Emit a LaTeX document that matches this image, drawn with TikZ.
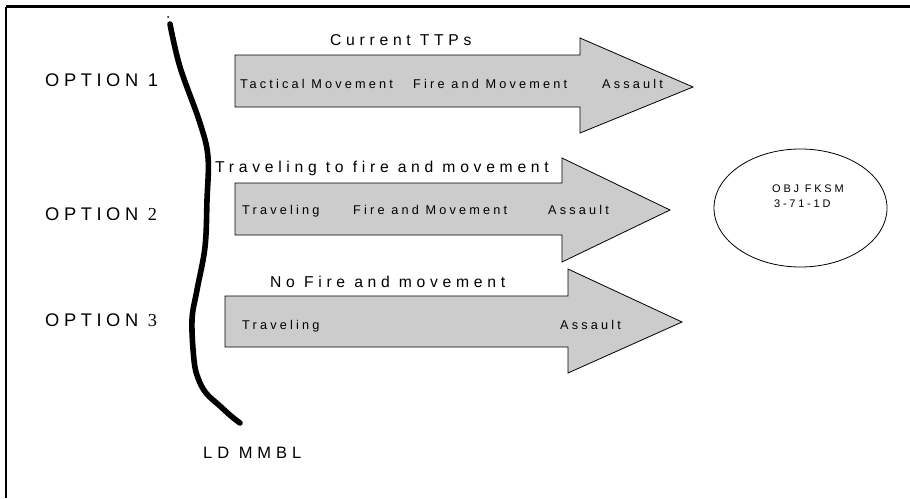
\documentclass[tikz,border=0pt]{standalone}
\usepackage{fontspec}
\setmainfont{Liberation Sans}
\newfontfamily\spaced[LetterSpace=25]{Liberation Sans}
\newfontfamily\spacedwide[LetterSpace=30]{Liberation Sans}
\newfontfamily\spacedserif[LetterSpace=25]{Liberation Serif}
\begin{document}
\begin{tikzpicture}[x=1pt,y=-1pt,
  arrowshape/.style={draw=black, line width=0.8pt, fill=black!20, line join=miter},
  lbl/.style={inner sep=0pt, anchor=base west},
  titlelbl/.style={lbl, font=\spacedwide\fontsize{15.7}{18}\selectfont},
  bodylbl/.style={lbl, font=\spaced\fontsize{12.7}{15}\selectfont},
  optlbl/.style={lbl, font=\spaced\fontsize{18.3}{21}\selectfont},
  ldlbl/.style={lbl, font=\spacedwide\fontsize{16.5}{19}\selectfont},
  objlbl/.style={lbl, font=\spaced\fontsize{11}{13}\selectfont},
  frameline/.style={line width=2.6pt, black}
]
\useasboundingbox (0,0) rectangle (910,498);
% frame (top and left only)
\draw[frameline] (6,6.5) -- (910,6.5);
\draw[frameline] (6,6.5) -- (6,498);

% line of departure
\fill (168,17) circle (1pt);
\draw[line width=5.6pt, line cap=round, line join=round]
  plot[smooth, tension=0.6] coordinates {(170,24) (180,67) (200,123) (208,157) (207,200) (205,247) (197,290) (192,320) (194,360) (198,378) (206,393) (220,406) (231,416) (240,423)};

% arrows
\draw[arrowshape] (235,55) -- (580,55) -- (580,38) -- (693,87) -- (580,133) -- (580,107) -- (235,107) -- cycle;
\draw[arrowshape] (235,183) -- (562,183) -- (562,158) -- (670,210) -- (562,262) -- (562,235) -- (235,235) -- cycle;
\draw[arrowshape] (225,296) -- (568,296) -- (568,269) -- (682,322) -- (568,373) -- (568,347) -- (225,347) -- cycle;

% objective
\draw[line width=0.8pt] (800.5,208) ellipse [x radius=86.5, y radius=59];
\node[objlbl] (obj1) at (772,192) {OBJ FKSM};
\node[objlbl] (obj2) at (774,207) {3-71-1D};

% titles
\node[titlelbl] (t1) at (330,45) {Current TTPs};
\node[titlelbl] (t2) at (215,172) {Traveling to fire and movement};
\node[titlelbl] (t3) at (270,287) {No Fire and movement};

% arrow texts
\node[bodylbl] (a1) at (240,88) {Tactical Movement};
\node[bodylbl] (a2) at (413,88) {Fire and Movement};
\node[bodylbl] (a3) at (602,88) {Assault};
\node[bodylbl] (b1) at (242,214) {Traveling};
\node[bodylbl] (b2) at (353,214) {Fire and Movement};
\node[bodylbl] (b3) at (548,214) {Assault};
\node[bodylbl] (c1) at (242,329) {Traveling};
\node[bodylbl] (c3) at (560,329) {Assault};

% options
\node[optlbl] (o1) at (45,86) {OPTION 1};
\node[optlbl] (o2) at (45,220) {OPTION {\spacedserif 2}};
\node[optlbl] (o3) at (45,326) {OPTION {\spacedserif 3}};

\node[ldlbl] (ld) at (203,458) {LD MMBL};
\end{tikzpicture}
\end{document}
